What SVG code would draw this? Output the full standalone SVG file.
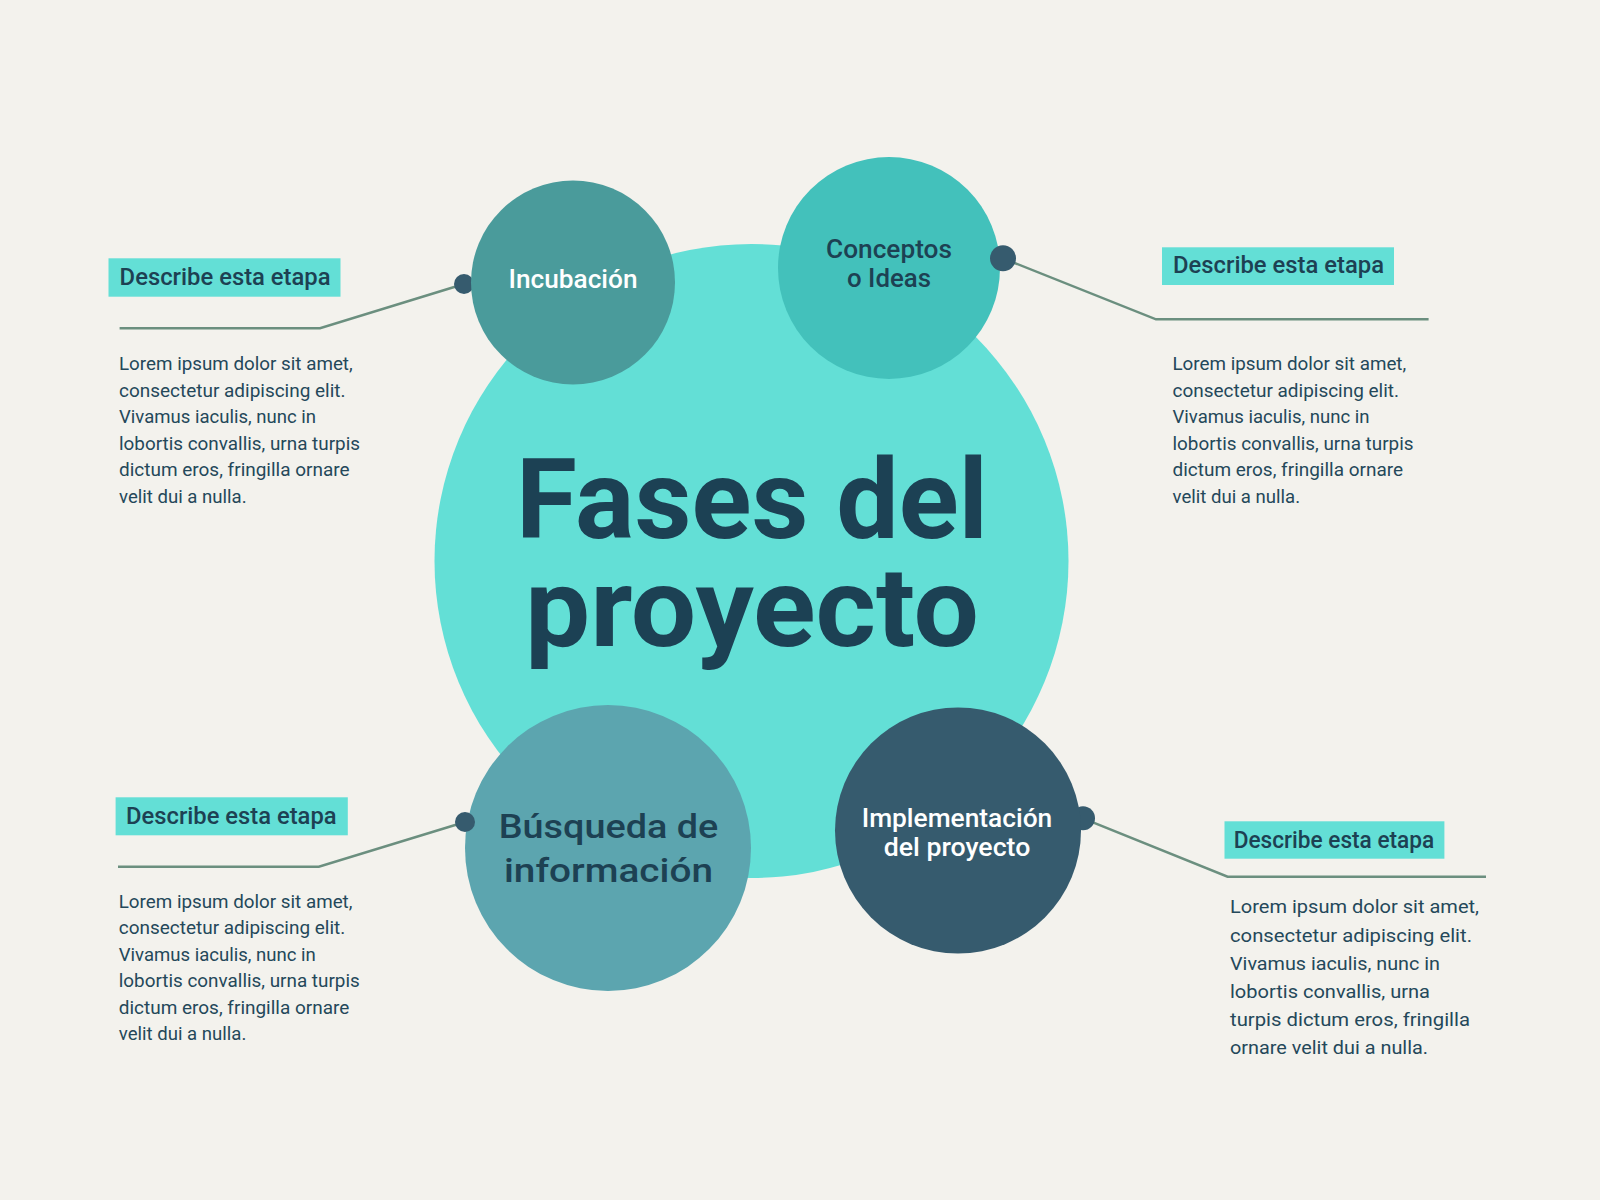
<svg xmlns="http://www.w3.org/2000/svg" width="1600" height="1200" viewBox="0 0 1600 1200">
<style>
.bg{fill:#f3f2ed}
.conn{fill:none;stroke:#6b8f7f;stroke-width:2.5}
.dot{fill:#365b6e}
.lbox{fill:#63dfd6}
.lbl{font-family:Roboto,"Liberation Sans",sans-serif;font-weight:500;font-size:23px;fill:#1d4153}
.body{font-family:Roboto,"Liberation Sans",sans-serif;font-weight:400;font-size:17.5px;fill:#24485a}
.body2{font-family:Roboto,"Liberation Sans",sans-serif;font-weight:400;font-size:18.5px;fill:#24485a}
.title{font-family:Roboto,"Liberation Sans",sans-serif;font-weight:700;font-size:111px;fill:#1c4154}
.node{font-family:Roboto,"Liberation Sans",sans-serif;font-weight:500;text-anchor:middle}
</style>
<rect class="bg" x="0" y="0" width="1600" height="1200"/>

<g id="main">
<circle cx="751.5" cy="561" r="317" fill="#63dfd6"/>
<text class="title" text-anchor="middle"><tspan x="752" y="538" textLength="472" lengthAdjust="spacingAndGlyphs">Fases del</tspan><tspan x="752" y="646" textLength="454" lengthAdjust="spacingAndGlyphs">proyecto</tspan></text>
</g>

<g id="connectors">
<polyline class="conn" points="464,284 320,328.3 119.6,328.3"/>
<polyline class="conn" points="1003,258.3 1156,319.3 1428.6,319.3"/>
<polyline class="conn" points="465,822 318.8,866.7 118,866.7"/>
<polyline class="conn" points="1083,818.3 1227.6,876.7 1486,876.7"/>
</g>

<g id="incubacion">
<circle class="dot" cx="464" cy="284" r="10"/>
<circle cx="573" cy="282.5" r="102" fill="#4a9b9b"/>
<text class="node" x="573" y="288" font-size="26" fill="#ffffff" textLength="129" lengthAdjust="spacingAndGlyphs">Incubación</text>
</g>

<g id="conceptos">
<circle cx="889" cy="268" r="111" fill="#43c1bb"/>
<circle class="dot" cx="1003" cy="258.3" r="13"/>
<text class="node" x="889" y="258.3" font-size="25" fill="#1d4153" textLength="126" lengthAdjust="spacingAndGlyphs">Conceptos</text>
<text class="node" x="889" y="286.7" font-size="25" fill="#1d4153" textLength="84" lengthAdjust="spacingAndGlyphs">o Ideas</text>
</g>

<g id="busqueda">
<circle cx="608" cy="848" r="143" fill="#5ca5af"/>
<circle class="dot" cx="465" cy="822" r="10"/>
<text class="node" x="608.5" y="838" font-size="33" fill="#1d4153" textLength="219.7" lengthAdjust="spacingAndGlyphs">Búsqueda de</text>
<text class="node" x="608.5" y="881.7" font-size="33" fill="#1d4153" textLength="209" lengthAdjust="spacingAndGlyphs">información</text>
</g>

<g id="implementacion">
<circle class="dot" cx="1083" cy="818.3" r="12"/>
<circle cx="958" cy="830.5" r="123" fill="#365b6e"/>
<text class="node" x="957" y="826.7" font-size="25" fill="#ffffff" textLength="190.6" lengthAdjust="spacingAndGlyphs">Implementación</text>
<text class="node" x="957" y="856" font-size="25" fill="#ffffff" textLength="146.6" lengthAdjust="spacingAndGlyphs">del proyecto</text>
</g>

<g id="label-tl">
<rect class="lbox" x="108.5" y="258.3" width="232" height="38.4"/>
<text class="lbl" x="119.6" y="285" textLength="211" lengthAdjust="spacingAndGlyphs">Describe esta etapa</text>
<text class="body" x="119" y="370" textLength="233.7" lengthAdjust="spacingAndGlyphs">Lorem ipsum dolor sit amet,</text>
<text class="body" x="119" y="396.5" textLength="226.5" lengthAdjust="spacingAndGlyphs">consectetur adipiscing elit.</text>
<text class="body" x="119" y="423" textLength="197" lengthAdjust="spacingAndGlyphs">Vivamus iaculis, nunc in</text>
<text class="body" x="119" y="449.5" textLength="241" lengthAdjust="spacingAndGlyphs">lobortis convallis, urna turpis</text>
<text class="body" x="119" y="476" textLength="230.6" lengthAdjust="spacingAndGlyphs">dictum eros, fringilla ornare</text>
<text class="body" x="119" y="502.5" textLength="127.6" lengthAdjust="spacingAndGlyphs">velit dui a nulla.</text>
</g>

<g id="label-tr">
<rect class="lbox" x="1162" y="247.3" width="232" height="37.7"/>
<text class="lbl" x="1173" y="273.3" textLength="211" lengthAdjust="spacingAndGlyphs">Describe esta etapa</text>
<text class="body" x="1172.5" y="370" textLength="233.7" lengthAdjust="spacingAndGlyphs">Lorem ipsum dolor sit amet,</text>
<text class="body" x="1172.5" y="396.5" textLength="226.5" lengthAdjust="spacingAndGlyphs">consectetur adipiscing elit.</text>
<text class="body" x="1172.5" y="423" textLength="197" lengthAdjust="spacingAndGlyphs">Vivamus iaculis, nunc in</text>
<text class="body" x="1172.5" y="449.5" textLength="241" lengthAdjust="spacingAndGlyphs">lobortis convallis, urna turpis</text>
<text class="body" x="1172.5" y="476" textLength="230.6" lengthAdjust="spacingAndGlyphs">dictum eros, fringilla ornare</text>
<text class="body" x="1172.5" y="502.5" textLength="127.6" lengthAdjust="spacingAndGlyphs">velit dui a nulla.</text>
</g>

<g id="label-bl">
<rect class="lbox" x="115.6" y="797.3" width="232.2" height="38"/>
<text class="lbl" x="126" y="824" textLength="210.6" lengthAdjust="spacingAndGlyphs">Describe esta etapa</text>
<text class="body" x="118.75" y="907.7" textLength="233.7" lengthAdjust="spacingAndGlyphs">Lorem ipsum dolor sit amet,</text>
<text class="body" x="118.75" y="934.2" textLength="226.5" lengthAdjust="spacingAndGlyphs">consectetur adipiscing elit.</text>
<text class="body" x="118.75" y="960.7" textLength="197" lengthAdjust="spacingAndGlyphs">Vivamus iaculis, nunc in</text>
<text class="body" x="118.75" y="987.2" textLength="241" lengthAdjust="spacingAndGlyphs">lobortis convallis, urna turpis</text>
<text class="body" x="118.75" y="1013.7" textLength="230.6" lengthAdjust="spacingAndGlyphs">dictum eros, fringilla ornare</text>
<text class="body" x="118.75" y="1040.2" textLength="127.6" lengthAdjust="spacingAndGlyphs">velit dui a nulla.</text>
</g>

<g id="label-br">
<rect class="lbox" x="1224.5" y="821.3" width="219.9" height="37.4"/>
<text class="lbl" x="1233.7" y="848.3" textLength="200.5" lengthAdjust="spacingAndGlyphs">Describe esta etapa</text>
<text class="body2" x="1230" y="913.3" textLength="249" lengthAdjust="spacingAndGlyphs">Lorem ipsum dolor sit amet,</text>
<text class="body2" x="1230" y="941.5" textLength="242" lengthAdjust="spacingAndGlyphs">consectetur adipiscing elit.</text>
<text class="body2" x="1230" y="969.7" textLength="210" lengthAdjust="spacingAndGlyphs">Vivamus iaculis, nunc in</text>
<text class="body2" x="1230" y="997.9" textLength="200" lengthAdjust="spacingAndGlyphs">lobortis convallis, urna</text>
<text class="body2" x="1230" y="1026.1" textLength="240" lengthAdjust="spacingAndGlyphs">turpis dictum eros, fringilla</text>
<text class="body2" x="1230" y="1054.3" textLength="198" lengthAdjust="spacingAndGlyphs">ornare velit dui a nulla.</text>
</g>
</svg>
